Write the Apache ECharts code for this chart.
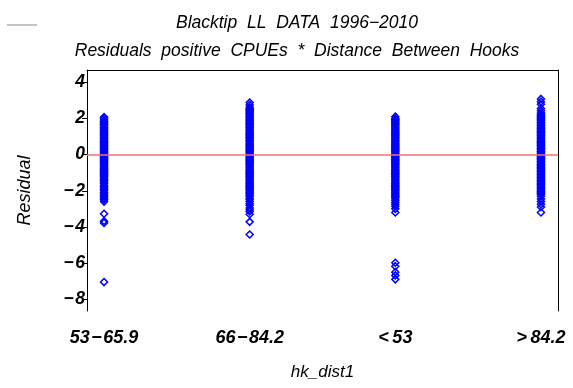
<!DOCTYPE html>
<html>
<head>
<meta charset="utf-8">
<script src="https://cdn.jsdelivr.net/npm/echarts@6/dist/echarts.min.js"></script>
<style>
html,body{margin:0;padding:0;background:#fff;}
#c{width:573px;height:388px;}
</style>
</head>
<body>
<div id="c"></div>
<script>
var categories = ['53\u200a\u2212\u200a65.9', '66\u200a\u2212\u200a84.2', '<\u200953', '>\u200984.2'];
var yTicks = [-8, -6, -4, -2, 0, 2, 4];

var resid_53_659 = [2.08, 2.0, 1.92, 1.85,
  1.78,1.71,1.66,1.6,1.52,1.47,1.41,1.35,1.28,1.22,1.17,1.1,1.04,0.98,0.91,0.86,0.8,0.73,0.68,0.62,0.55,0.49,0.44,0.37,0.31,0.26,0.19,0.13,0.08,0.02,-0.04,-0.1,-0.15,-0.22,-0.27,-0.33,-0.4,-0.45,-0.51,-0.58,-0.63,-0.69,-0.75,-0.8,-0.87,-0.92,-0.98,-1.05,-1.1,-1.16,-1.22,
  -1.3,-1.36,-1.45,-1.52,-1.6,-1.7,-1.78,-1.85,-1.93,-2.0,-2.1,-2.17,-2.25,-2.33,-2.42,-2.5,-2.6,
  -3.27,-3.68,-3.78,-7.05];
var resid_66_842 = [2.88, 2.75, 2.62,
  2.55,2.49,2.44,2.37,2.31,2.26,2.2,2.13,2.08,2.02,1.95,1.9,1.84,1.77,1.72,1.66,1.6,1.53,1.48,1.42,1.35,1.3,1.24,1.17,1.12,1.06,0.99,0.94,0.88,0.81,0.76,0.7,0.63,0.58,0.52,0.45,0.4,0.34,0.27,0.22,0.16,0.09,0.04,-0.02,-0.09,-0.14,-0.2,-0.27,-0.32,-0.38,-0.45,-0.5,-0.56,-0.63,-0.68,-0.74,-0.81,-0.86,-0.92,-0.99,-1.04,-1.1,-1.17,-1.22,-1.28,-1.35,-1.4,-1.46,-1.53,-1.58,-1.64,-1.71,-1.76,-1.82,-1.89,-1.94,-2.0,-2.07,-2.12,-2.18,-2.25,-2.3,
  -2.42,-2.5,-2.6,-2.72,-2.8,-2.95,-3.05,-3.15,-3.3,-3.72,-4.42];
var resid_lt53 = [2.1, 2.0, 1.95,
  1.9,1.84,1.78,1.71,1.66,1.6,1.53,1.47,1.42,1.35,1.29,1.24,1.17,1.11,1.06,0.99,0.93,0.88,0.81,0.75,0.7,0.63,0.57,0.52,0.45,0.39,0.34,0.27,0.21,0.16,0.09,0.03,-0.02,-0.09,-0.15,-0.2,-0.27,-0.33,-0.38,-0.45,-0.51,-0.56,-0.63,-0.69,-0.74,-0.81,-0.87,-0.92,-0.99,-1.05,-1.1,-1.17,-1.23,-1.28,-1.35,-1.41,-1.46,-1.53,-1.59,-1.64,-1.71,-1.77,-1.82,-1.89,-1.95,-2.0,-2.07,-2.13,-2.18,-2.25,-2.31,-2.36,-2.45,
  -2.55,-2.65,-2.75,-2.85,-3.0,-3.2,
  -5.98,-6.17,-6.5,-6.68,-6.9];
var resid_gt842 = [3.08, 2.93, 2.78, 2.55, 2.42,
  2.3,2.24,2.17,2.12,2.06,1.99,1.94,1.88,1.81,1.76,1.7,1.63,1.58,1.52,1.45,1.4,1.34,1.27,1.22,1.16,1.09,1.04,0.98,0.91,0.86,0.8,0.73,0.68,0.62,0.55,0.5,0.44,0.37,0.32,0.26,0.19,0.14,0.08,0.01,-0.04,-0.1,-0.17,-0.22,-0.28,-0.35,-0.4,-0.46,-0.53,-0.58,-0.64,-0.71,-0.76,-0.82,-0.89,-0.94,-1.0,-1.07,-1.12,-1.18,-1.25,-1.3,-1.36,-1.43,-1.48,-1.54,-1.61,-1.66,-1.72,-1.79,-1.84,-1.9,-1.97,-2.02,-2.08,-2.15,-2.2,-2.3,
  -2.45,-2.6,-2.75,-2.9,-3.2];

var groups = [resid_53_659, resid_66_842, resid_lt53, resid_gt842];
var points = [];
groups.forEach(function (arr, i) {
  arr.forEach(function (v) { points.push([i + 1, v]); });
});

var FONT = '"Liberation Sans", Arial, sans-serif';
var chart = echarts.init(document.getElementById('c'), null, {renderer: 'canvas'});
chart.setOption({
  animation: false,
  backgroundColor: '#fff',
  title: {
    text: 'Blacktip  LL  DATA  1996\u22122010\nResiduals  positive  CPUEs  *  Distance  Between  Hooks',
    left: 292, top: 4, textAlign: 'center',
    textStyle: {fontFamily: FONT, fontStyle: 'italic', fontWeight: 'normal', fontSize: 17.5, color: '#000', lineHeight: 28}
  },
  graphic: [{
    type: 'line', shape: {x1: 7, y1: 25, x2: 37, y2: 25},
    style: {stroke: '#888', lineWidth: 1}
  }],
  grid: {left: 87, right: 15, top: 70, bottom: 77, containLabel: false},
  xAxis: [{
    type: 'value', min: 0.883, max: 4.117, position: 'bottom',
    axisLine: {show: false},
    axisTick: {show: true, length: 6, customValues: [1, 2, 3, 4], lineStyle: {color: '#000'}},
    splitLine: {show: false},
    axisLabel: {
      customValues: [1, 2, 3, 4], margin: 18,
      formatter: function (v) { return categories[Math.round(v) - 1]; },
      fontFamily: FONT, fontStyle: 'italic', fontWeight: 'bold', fontSize: 18, color: '#000'
    },
    name: 'hk_dist1', nameLocation: 'middle', nameGap: 53,
    nameTextStyle: {fontFamily: FONT, fontStyle: 'italic', fontSize: 17, color: '#000', padding: [0, 0, 0, 0]}
  }, {
    type: 'value', min: 0.883, max: 4.117, position: 'top',
    axisLine: {show: true, onZero: false, lineStyle: {color: '#000', width: 1}},
    axisTick: {show: false}, axisLabel: {show: false}, splitLine: {show: false}
  }],
  yAxis: [{
    type: 'value', min: -8.65, max: 4.68,
    axisLine: {show: true, onZero: false, lineStyle: {color: '#000', width: 1}},
    axisTick: {show: true, length: 5, customValues: yTicks, lineStyle: {color: '#000'}},
    splitLine: {show: false},
    axisLabel: {
      customValues: yTicks, margin: 2,
      formatter: function (v) { return String(v).replace('-', '\u2212\u200a'); },
      fontFamily: FONT, fontStyle: 'italic', fontWeight: 'bold', fontSize: 17.5, color: '#000'
    },
    name: 'Residual', nameLocation: 'middle', nameRotate: 90, nameGap: 53,
    nameTextStyle: {fontFamily: FONT, fontStyle: 'italic', fontSize: 18, color: '#000'}
  }, {
    type: 'value', min: -8.65, max: 4.68, position: 'right',
    axisLine: {show: true, onZero: false, lineStyle: {color: '#000', width: 1}},
    axisTick: {show: false}, axisLabel: {show: false}, splitLine: {show: false}
  }],
  series: [{
    type: 'scatter',
    data: points,
    symbol: 'diamond',
    symbolSize: 7,
    itemStyle: {color: 'rgba(0,0,0,0)', borderColor: '#0000ff', borderWidth: 1.5, opacity: 1},
    markLine: {
      silent: true, symbol: 'none', animation: false,
      label: {show: false},
      lineStyle: {color: '#f07070', width: 1.5, type: 'solid'},
      data: [{yAxis: 0}]
    },
    z: 3
  }]
});
</script>
</body>
</html>
